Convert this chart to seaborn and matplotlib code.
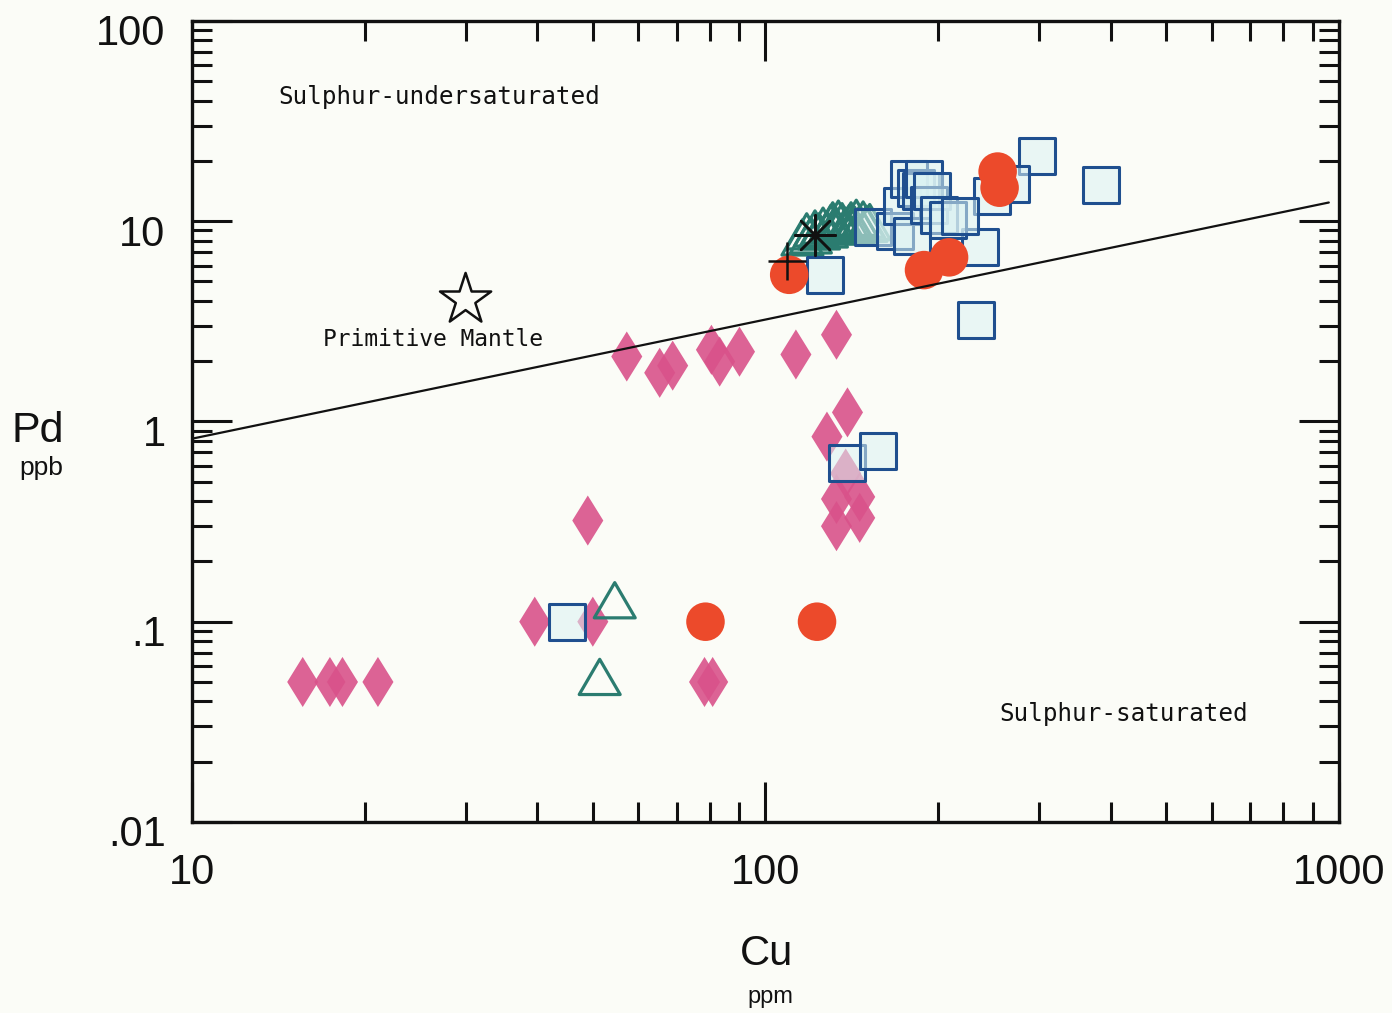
import matplotlib
matplotlib.use("Agg")
import matplotlib.pyplot as plt
from matplotlib.path import Path
from matplotlib.transforms import ScaledTranslation
from matplotlib.ticker import FixedLocator, FixedFormatter, LogLocator, NullFormatter
import seaborn as sns

# Cu in ppm, Pd in ppb
diamond_cu = [15.6, 17.4, 18.3, 21.1, 39.6, 50.0, 49.0, 78.3, 80.9,
              57.3, 65.4, 68.9, 80.5, 83.2, 90.1, 113, 133,
              139, 128, 138, 133, 146, 133, 146]
diamond_pd = [0.05, 0.05, 0.05, 0.05, 0.10, 0.10, 0.32, 0.05, 0.05,
              2.11, 1.75, 1.90, 2.28, 1.99, 2.23, 2.16, 2.71,
              1.11, 0.84, 0.55, 0.41, 0.42, 0.30, 0.33]

triangle_cu = [54.6, 51.4, 116, 118, 120, 122, 124, 126, 128, 130, 131, 133,
               134, 136, 138, 140, 141, 143, 144, 146, 148, 150, 152]
triangle_pd = [0.128, 0.053, 8.3, 8.9, 8.5, 9.2, 8.9, 9.5, 9.1, 9.8, 10.1, 9.4,
               10.3, 10.0, 9.5, 9.8, 10.1, 9.6, 10.4, 9.7, 10.2, 9.7, 9.9]

square_cu = [127, 297, 385, 233, 237, 248, 268, 139, 157, 45.0,
             154, 168, 173, 178, 180, 183, 187, 189, 193, 195, 201, 208, 218]
square_pd = [5.4, 21.1, 15.1, 3.22, 7.4, 13.3, 15.4, 0.62, 0.71, 0.10,
             9.4, 8.9, 11.9, 16.2, 8.4, 14.7, 14.1, 16.2, 12.1, 14.1, 10.8, 10.1, 10.6]

circle_cu = [110, 189, 209, 254, 256, 78.6, 123]
circle_pd = [5.4, 5.7, 6.6, 17.7, 14.7, 0.10, 0.10]

plus_cu, plus_pd = [109], [6.3]
asterisk_cu, asterisk_pd = [122], [8.5]
mantle_cu, mantle_pd = [30], [4.05]

line_cu = [10, 960]
line_pd = [0.82, 12.4]

sns.set_style("ticks")
plt.rcParams["font.family"] = ["Liberation Sans", "DejaVu Sans"]

paper = "#fbfcf7"
ink = "#111111"
fig = plt.figure(figsize=(13.92, 10.13), dpi=100, facecolor=paper)
ax = fig.add_axes([0.1379, 0.1886, 0.824, 0.7907])
ax.set_facecolor(paper)
ax.set_xscale("log")
ax.set_yscale("log")

diamond = Path([(0, 1), (0.62, 0), (0, -1), (-0.62, 0), (0, 1)], closed=True)
triangle = Path([(0, 0.86), (1, -0.86), (-1, -0.86), (0, 0.86)], closed=True)

sns.scatterplot(x=diamond_cu, y=diamond_pd, marker=diamond, s=1300,
                color="#d9528a", edgecolor="none", alpha=0.9, ax=ax, zorder=2)
sns.scatterplot(x=triangle_cu, y=triangle_pd, marker=triangle, s=870,
                color="#2b7c70", facecolor="none", edgecolor="#2b7c70",
                linewidth=2.3, ax=ax, zorder=3)
sns.scatterplot(x=square_cu, y=square_pd, marker="s", s=650,
                color="#1f4f8f", facecolor=(0.86, 0.95, 0.95, 0.55),
                edgecolor="#1f4f8f", linewidth=2.2, ax=ax, zorder=4)
sns.scatterplot(x=circle_cu, y=circle_pd, marker="o", s=770,
                color="#ec4a2b", edgecolor="none", ax=ax, zorder=5)
sns.scatterplot(x=plus_cu, y=plus_pd, marker="+", s=720, color=ink,
                linewidth=1.8, ax=ax, zorder=6)
sns.scatterplot(x=asterisk_cu, y=asterisk_pd, marker=(8, 2, 0), s=850,
                color=ink, linewidth=1.8, ax=ax, zorder=6)
sns.scatterplot(x=mantle_cu, y=mantle_pd, marker="*", s=1500,
                color=ink, facecolor="none", edgecolor=ink,
                linewidth=1.8, ax=ax, zorder=6)
sns.lineplot(x=line_cu, y=line_pd, color=ink, linewidth=1.6, ax=ax, zorder=7)

ax.set_xlim(10, 1000)
ax.set_ylim(0.01, 100)

ax.xaxis.set_major_locator(FixedLocator([10, 100, 1000]))
ax.xaxis.set_major_formatter(FixedFormatter(["10", "100", "1000"]))
ax.xaxis.set_minor_locator(LogLocator(base=10, subs=range(2, 10)))
ax.xaxis.set_minor_formatter(NullFormatter())
ax.yaxis.set_major_locator(FixedLocator([0.01, 0.1, 1, 10, 100]))
ax.yaxis.set_major_formatter(FixedFormatter([".01", ".1", "1", "10", "100"]))
ax.yaxis.set_minor_locator(LogLocator(base=10, subs=range(2, 10)))
ax.yaxis.set_minor_formatter(NullFormatter())

ax.tick_params(which="both", direction="in", top=True, right=True,
               color=ink, width=2.2)
ax.tick_params(which="major", length=29, labelsize=30, labelcolor=ink)
ax.tick_params(which="minor", length=14.5)
ax.tick_params(axis="x", which="major", pad=22)
ax.tick_params(axis="y", which="major", pad=19)
for side in ax.spines.values():
    side.set_linewidth(2.4)
    side.set_color(ink)
ax.set_xlabel("")
ax.set_ylabel("")

# the y labels sit a little below their ticks in the original
shift = ScaledTranslation(0, -0.09, fig.dpi_scale_trans)
for lab in ax.get_yticklabels():
    lab.set_transform(lab.get_transform() + shift)

mono = "DejaVu Sans Mono"
ax.text(0.075, 0.905, "Sulphur-undersaturated", transform=ax.transAxes,
        family=mono, fontsize=17.5, va="center", ha="left", color=ink)
ax.text(0.704, 0.135, "Sulphur-saturated", transform=ax.transAxes,
        family=mono, fontsize=17.5, va="center", ha="left", color=ink)
ax.text(0.114, 0.602, "Primitive Mantle", transform=ax.transAxes,
        family=mono, fontsize=16.5, va="center", ha="left", color=ink)

fig.text(766 / 1392, 1 - 954 / 1013, "Cu", fontsize=30, ha="center", va="center", color=ink)
fig.text(770 / 1392, 1 - 997 / 1013, "ppm", fontsize=17, ha="center", va="center", color=ink)
fig.text(38 / 1392, 1 - 431 / 1013, "Pd", fontsize=31, ha="center", va="center", color=ink)
fig.text(41 / 1392, 1 - 468 / 1013, "ppb", fontsize=19, ha="center", va="center", color=ink)

fig.savefig("out.png", dpi=100, facecolor=paper)
